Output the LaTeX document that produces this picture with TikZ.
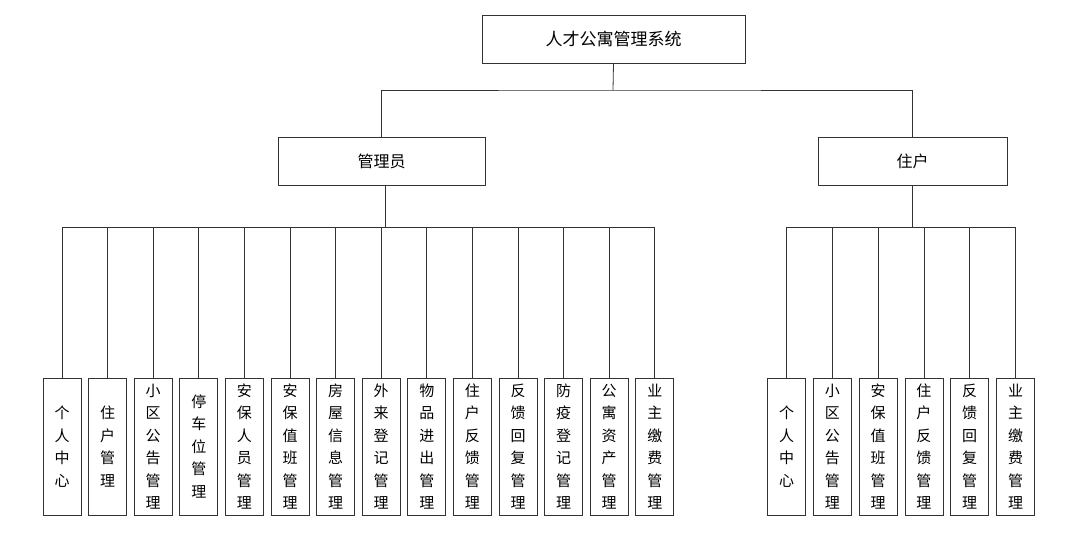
\documentclass[tikz,border=0pt]{standalone}
\usepackage{fontspec}
\setmainfont{Noto Sans CJK SC}
\begin{document}
\begin{tikzpicture}[x=1pt,y=-1pt,
  line/.style={draw=black!80,line width=0.8pt},
  box/.style={line,rectangle,inner sep=0pt,fill=white},
  topbox/.style={box,minimum width=263pt,minimum height=48pt,font=\fontsize{17}{20}\selectfont},
  midbox/.style={box,minimum height=48pt,font=\fontsize{16}{20}\selectfont},
  leaf/.style={box,minimum width=38pt,minimum height=137pt,align=center,font=\fontsize{15}{22.5}\selectfont}]
\useasboundingbox (0,0) rectangle (1085,540);
\node[topbox] (top) at (613.5,39) {人才公寓管理系统};
\node[midbox,minimum width=207pt] (admin) at (381.5,161) {管理员};
\node[midbox,minimum width=189pt] (res) at (912.5,161) {住户};
\coordinate (bus) at (613,90);
\draw[line] (top.south) -- (bus);
\draw[line] (admin.north) |- (bus) -| (res.north);
\coordinate (adown) at (385.5,185);
\coordinate (abus) at (385.5,227);
\draw[line] (adown) -- (abus);
\coordinate (rbus) at (912.5,227);
\draw[line] (res.south) -- (rbus);
\foreach \t [count=\i] in {{个\\人\\中\\心},{住\\户\\管\\理},{小\\区\\公\\告\\管\\理},{停\\车\\位\\管\\理},{安\\保\\人\\员\\管\\理},{安\\保\\值\\班\\管\\理},{房\\屋\\信\\息\\管\\理},{外\\来\\登\\记\\管\\理},{物\\品\\进\\出\\管\\理},{住\\户\\反\\馈\\管\\理},{反\\馈\\回\\复\\管\\理},{防\\疫\\登\\记\\管\\理},{公\\寓\\资\\产\\管\\理},{业\\主\\缴\\费\\管\\理}}{
  \node[leaf] (a\i) at ({62+(\i-1)*45.6},446.5) {\t};
  \draw[line] (a\i.north) |- (abus);
}
\foreach \t [count=\i] in {{个\\人\\中\\心},{小\\区\\公\\告\\管\\理},{安\\保\\值\\班\\管\\理},{住\\户\\反\\馈\\管\\理},{反\\馈\\回\\复\\管\\理},{业\\主\\缴\\费\\管\\理}}{
  \node[leaf] (r\i) at ({786.5+(\i-1)*45.8},446.5) {\t};
  \draw[line] (r\i.north) |- (rbus);
}
\end{tikzpicture}
\end{document}
